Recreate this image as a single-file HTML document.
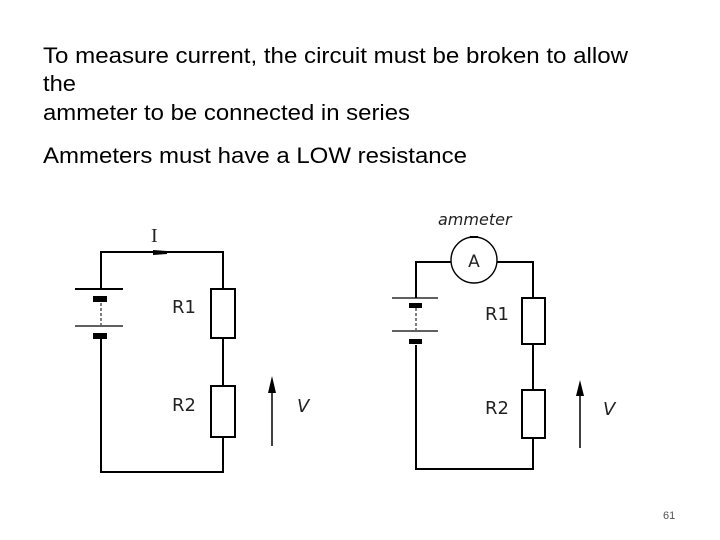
<!DOCTYPE html>
<html><head><style>
html,body{margin:0;padding:0;background:#fff;}
svg{display:block;}
</style></head><body>
<svg width="720" height="540" viewBox="0 0 720 540" xmlns="http://www.w3.org/2000/svg">
<rect width="720" height="540" fill="#fff"/>
<g font-family="Liberation Sans, sans-serif" font-size="22" fill="#000">
<text x="43" y="63" textLength="585" lengthAdjust="spacingAndGlyphs">To measure current, the circuit must be broken to allow</text>
<text x="43" y="91" textLength="33" lengthAdjust="spacingAndGlyphs">the</text>
<text x="43" y="120" textLength="367" lengthAdjust="spacingAndGlyphs">ammeter to be connected in series</text>
<text x="43" y="163" textLength="424" lengthAdjust="spacingAndGlyphs">Ammeters must have a LOW resistance</text>
<text x="663" y="519" font-size="11" fill="#555">61</text>
</g>
<g stroke="#000" stroke-width="2" fill="none">
<polyline points="101,289 101,252 223,252 223,289"/>
<line x1="75" y1="289" x2="123" y2="289"/>
<line x1="75" y1="326" x2="123" y2="326" stroke-width="1.3"/>
<line x1="101" y1="303" x2="101" y2="325" stroke-width="1" stroke-dasharray="3,2"/>
<polyline points="101,339 101,472 223,472 223,437"/>
<line x1="223" y1="338" x2="223" y2="386"/>
<rect x="211" y="289" width="24" height="49"/>
<rect x="211" y="386" width="24" height="51"/>
<line x1="272" y1="446" x2="272" y2="390" stroke-width="1.5"/>
<polyline points="416,298 416,262 451,262"/>
<polyline points="497,262 533,262 533,298"/>
<circle cx="474" cy="260" r="23" stroke-width="1.4"/>
<line x1="392" y1="298" x2="438" y2="298" stroke-width="1.3"/>
<line x1="392" y1="331" x2="438" y2="331" stroke-width="1.3"/>
<line x1="416" y1="308" x2="416" y2="330" stroke-width="1" stroke-dasharray="3,2"/>
<polyline points="416,345 416,469 533,469 533,438"/>
<line x1="533" y1="344" x2="533" y2="390"/>
<rect x="522" y="298" width="23" height="46"/>
<rect x="522" y="390" width="23" height="48"/>
<line x1="580" y1="448" x2="580" y2="392" stroke-width="1.5"/>
</g>
<g fill="#000">
<rect x="93" y="296" width="14" height="6"/>
<rect x="93" y="333" width="14" height="6"/>
<rect x="409" y="303" width="13" height="5"/>
<rect x="409" y="339" width="13" height="5"/>
<polygon points="153,250 167,251 167,254 153,255"/>
<polygon points="272,376 268,393 276,393"/>
<polygon points="580,380 576,396 584,396"/>
<rect x="470" y="236" width="8" height="2"/>
</g>
<g font-family="DejaVu Sans, sans-serif" fill="#222" font-size="18">
<text x="151" y="242" font-family="Liberation Serif, serif" font-size="20">I</text>
<text x="172" y="313">R1</text>
<text x="172" y="411">R2</text>
<text x="297" y="412" font-style="italic">V</text>
<text x="485" y="320">R1</text>
<text x="485" y="414">R2</text>
<text x="603" y="415" font-style="italic">V</text>
<text x="438" y="225" font-size="16" font-style="italic">ammeter</text>
<text x="474" y="267" font-size="17" text-anchor="middle">A</text>
</g>
</svg>
</body></html>
